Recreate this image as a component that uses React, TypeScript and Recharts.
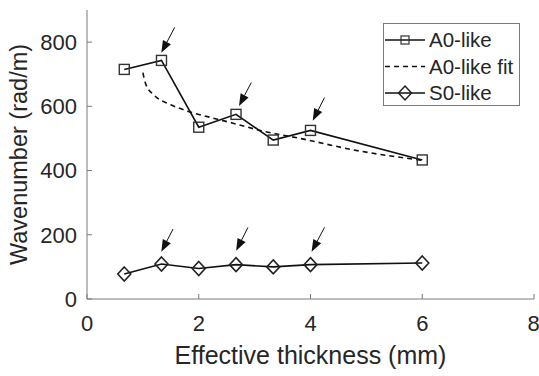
import { LineChart, Line, XAxis, YAxis, ReferenceLine, Legend } from "recharts";

// values
const thickness = [0.667, 1.333, 2, 2.667, 3.333, 4, 6];
const a0Like = [715, 743, 535, 575, 495, 525, 433];
const s0Like = [78, 109, 95, 107, 100, 107, 112];

const fitThickness = [1, 1.05, 1.2, 1.5, 1.8, 2.2, 2.6, 3.1, 3.9, 4.75, 6];
const a0Fit = [705, 670, 635, 605, 585, 566, 548, 525, 497, 465, 432];

const xTicks = [0, 2, 4, 6, 8];
const yTicks = [0, 200, 400, 600, 800];

// arrow annotations: tail -> tip, in data units
const arrowTailX = [1.57, 2.94, 4.25, 1.54, 2.88, 4.25];
const arrowTailY = [846, 674, 627, 218, 223, 223];
const arrowTipX = [1.33, 2.72, 4.04, 1.33, 2.67, 4.02];
const arrowTipY = [767, 601, 555, 147, 150, 147];

const FONT = '"Liberation Sans", Arial, sans-serif';
const INK = "#262626";
const AXIS = "#7a7a7a";
const LINE = "#111";

const a0Data = thickness.map((t, i) => ({ t, v: a0Like[i] }));
const s0Data = thickness.map((t, i) => ({ t, v: s0Like[i] }));
const fitData = fitThickness.map((t, i) => ({ t, v: a0Fit[i] }));

const SquareDot = (props: any) => {
  const { cx, cy, index } = props;
  if (cx == null || cy == null) return <g key={index} />;
  return (
    <rect key={index} x={cx - 5} y={cy - 5} width={10} height={10}
      fill="none" stroke="#333" strokeWidth={1.4} />
  );
};

const DiamondDot = (props: any) => {
  const { cx, cy, index } = props;
  if (cx == null || cy == null) return <g key={index} />;
  return (
    <path key={index}
      d={`M${cx},${cy - 7} L${cx + 6.5},${cy} L${cx},${cy + 7} L${cx - 6.5},${cy} Z`}
      fill="none" stroke="#222" strokeWidth={1.6} />
  );
};

const Arrow = (props: any) => {
  const { x1, y1, x2, y2 } = props;
  if ([x1, y1, x2, y2].some((v) => v == null || isNaN(v))) return <g />;
  const a = Math.atan2(y2 - y1, x2 - x1);
  const L = 12;
  const W = 4.5;
  const bx = x2 - L * Math.cos(a);
  const by = y2 - L * Math.sin(a);
  const px = -Math.sin(a) * W;
  const py = Math.cos(a) * W;
  return (
    <g>
      <line x1={x1} y1={y1} x2={bx} y2={by} stroke="#111" strokeWidth={1} />
      <path d={`M${x2},${y2} L${bx + px},${by + py} L${bx - px},${by - py} Z`} fill="#111" />
    </g>
  );
};

const legendRows = [
  { name: "A0-like", dash: undefined as string | undefined, marker: "square" },
  { name: "A0-like fit", dash: "5 4", marker: "none" },
  { name: "S0-like", dash: undefined, marker: "diamond" },
];

const LegendBox = () => (
  <svg width={137} height={83} style={{ display: "block" }}>
    <rect x={0.5} y={0.5} width={136} height={82} fill="#fff" stroke={AXIS} />
    {legendRows.map((r, i) => {
      const y = 17 + i * 26.5;
      return (
        <g key={r.name}>
          <line x1={2} y1={y} x2={42} y2={y} stroke={LINE} strokeWidth={1.5} strokeDasharray={r.dash} />
          {r.marker === "square" && (
            <rect x={18} y={y - 4} width={8} height={8} fill="none" stroke="#333" strokeWidth={1.2} />
          )}
          {r.marker === "diamond" && (
            <path d={`M22,${y - 7} L28.5,${y} L22,${y + 7} L15.5,${y} Z`} fill="none" stroke="#222" strokeWidth={1.5} />
          )}
          <text x={46} y={y + 7} fontSize={20.5} fill={INK} fontFamily={FONT}>{r.name}</text>
        </g>
      );
    })}
  </svg>
);

export default function App() {
  const tickStyle = { fontSize: 22, fill: INK, fontFamily: FONT };
  return (
    <div style={{ position: "absolute", left: 0, top: 0, background: "#fff" }}>
      <LineChart width={539} height={376} margin={{ top: 10, right: 5, bottom: 17, left: 27 }}>
        <XAxis type="number" dataKey="t" domain={[0, 8]} ticks={xTicks} allowDataOverflow
          height={60} tickSize={-5} tickMargin={21} tick={tickStyle}
          axisLine={{ stroke: AXIS }} tickLine={{ stroke: AXIS }}
          label={{ value: "Effective thickness (mm)", position: "insideBottom", offset: -5,
            style: { fontSize: 25, fill: INK, fontFamily: FONT } }} />
        <XAxis xAxisId="top" orientation="top" type="number" dataKey="t" domain={[0, 8]} ticks={xTicks}
          height={0} tickSize={-5} tick={false}
          axisLine={{ stroke: AXIS }} tickLine={{ stroke: AXIS }} />
        <YAxis type="number" domain={[0, 900]} ticks={yTicks} allowDataOverflow
          width={60} tickSize={-5} tickMargin={15} tick={tickStyle}
          axisLine={{ stroke: AXIS }} tickLine={{ stroke: AXIS }}
          label={{ value: "Wavenumber (rad/m)", angle: -90, position: "insideLeft", offset: -8,
            style: { fontSize: 23.5, fill: INK, fontFamily: FONT, textAnchor: "middle" } }} />
        <YAxis yAxisId="right" orientation="right" type="number" domain={[0, 900]} ticks={yTicks}
          width={0} tickSize={-5} tick={false}
          axisLine={{ stroke: AXIS }} tickLine={{ stroke: AXIS }} />
        <Legend layout="vertical" align="center" verticalAlign="middle"
          wrapperStyle={{ left: 383, top: 23, width: 137, height: 83 }}
          content={() => <LegendBox />} />
        <Line data={fitData} dataKey="v" name="A0-like fit" type="monotone" stroke={LINE}
          strokeWidth={1.6} strokeDasharray="5 4" dot={false} isAnimationActive={false} />
        <Line data={a0Data} dataKey="v" name="A0-like" type="linear" stroke={LINE}
          strokeWidth={1.6} dot={SquareDot} activeDot={false} isAnimationActive={false} />
        <Line data={s0Data} dataKey="v" name="S0-like" type="linear" stroke={LINE}
          strokeWidth={1.6} dot={DiamondDot} activeDot={false} isAnimationActive={false} />
        {arrowTipX.map((x, i) => (
          <ReferenceLine key={i}
            segment={[{ x: arrowTailX[i], y: arrowTailY[i] }, { x, y: arrowTipY[i] }]}
            shape={Arrow} ifOverflow="visible" />
        ))}
      </LineChart>
    </div>
  );
}
